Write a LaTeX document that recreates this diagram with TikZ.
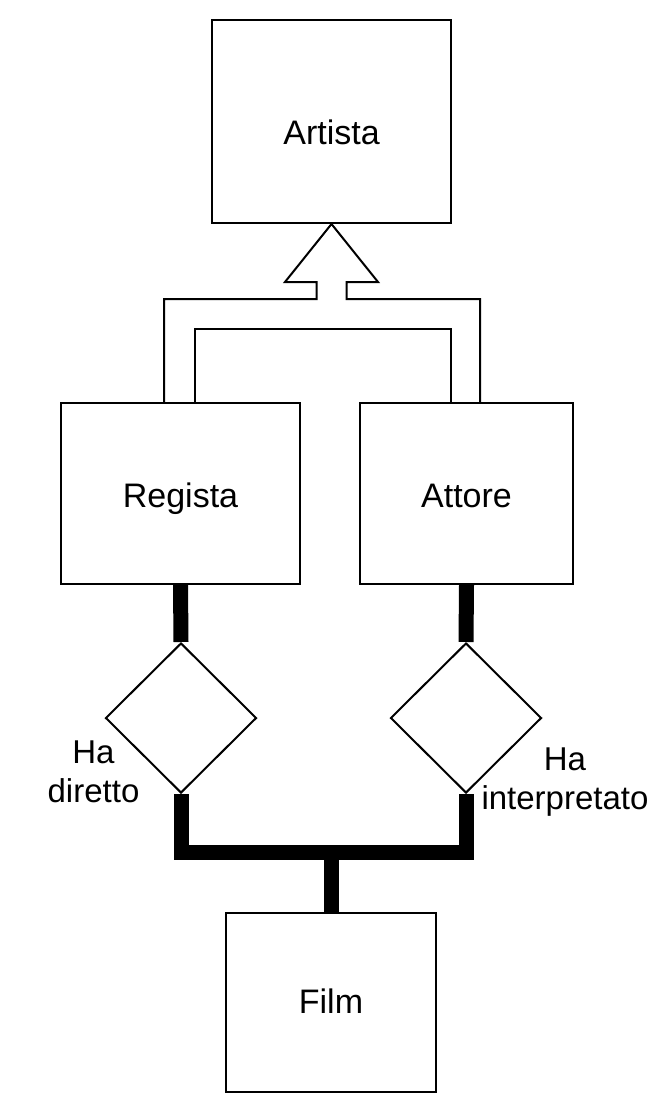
\documentclass[tikz,border=0pt]{standalone}
\usepackage{fontspec}
\setmainfont{Liberation Sans}
\usetikzlibrary{shapes.geometric,calc}

\begin{document}
\begin{tikzpicture}[x=1pt,y=-1pt,
	entity/.style={draw, line width=2pt, inner sep=0pt, text height=24pt, text depth=0pt, font=\fontsize{34}{40}\selectfont},
	relation/.style={draw, diamond, line width=2pt, inner sep=0pt, minimum width=151pt, minimum height=150pt},
	link/.style={line width=15pt, line join=miter},
	outline/.style={line width=2pt, line join=miter},
	tag/.style={align=center, font=\fontsize{33}{39}\selectfont}]

	\useasboundingbox (0,0) rectangle (668,1097);

	% Entities
	\node[entity, minimum width=239pt, minimum height=203pt, text height=45pt] (artista) at (331.5,121.5) {Artista};
	\node[entity, minimum width=239pt, minimum height=181pt, text height=27pt] (regista) at (180.5,493.5) {Regista};
	\node[entity, minimum width=213pt, minimum height=181pt, text height=27pt] (attore) at (466.5,493.5) {Attore};
	\node[entity, minimum width=210pt, minimum height=179pt, text height=21pt] (film) at (331,1002.5) {Film};

	% Relations
	\node[relation] (diretto) at (181,718) {};
	\node[relation] (interp) at (466,718) {};
	\node[tag] (tagdir) at (93.5,772) {Ha\\diretto};
	\node[tag] (taginterp) at (565,782) {Ha\\interpretato};

	% Generalization
	\coordinate (tip) at (artista.south);
	\draw[outline] ([xshift=104pt]regista.north west) |- ($(tip)+(-15,75)$) -- ++(0,-17) -- ++(-31.5,0)
		-- (tip) -- ++(46.5,58) -- ++(-31.5,0) -- ++(0,17) -| ([xshift=121pt]attore.north west);
	\draw[outline] ([xshift=135pt]regista.north west) |- ($(tip)+(0,105)$) -| ([xshift=92pt]attore.north west);

	% Links
	\coordinate (joint) at (331,852);
	\draw[link] (regista.south) -- (diretto.north);
	\draw[link] (attore.south) -- (interp.north);
	\draw[link] (diretto.south) |- (joint) -| (interp.south);
	\draw[link] (joint) -- (film.north);

\end{tikzpicture}
\end{document}
